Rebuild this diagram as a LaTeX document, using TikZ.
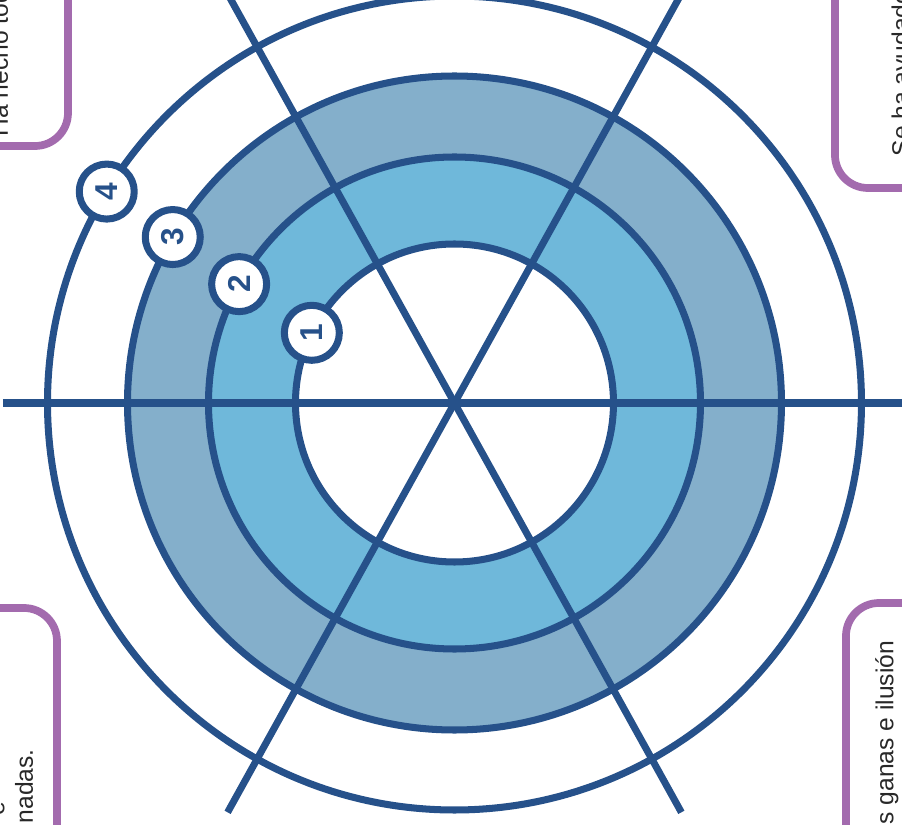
\documentclass[tikz,border=0pt]{standalone}
\usepackage{fontspec}
\setmainfont{Liberation Sans}
\usepackage{xcolor}
\usetikzlibrary{calc}

\definecolor{wheelblue}{RGB}{38,81,138}
\definecolor{ringlight}{RGB}{111,184,218}
\definecolor{ringmid}{RGB}{132,175,203}
\definecolor{boxpurple}{RGB}{163,107,174}
\definecolor{boxtext}{RGB}{40,40,40}

\tikzset{
  wheel/.style={draw=wheelblue, line width=2pt},
  spoke/.style={draw=wheelblue, line width=2pt, line cap=butt},
  badge/.style={circle, draw=wheelblue, line width=2pt, fill=white,
    minimum size=0.55cm, inner sep=0pt, text=wheelblue, rotate=90,
    font=\bfseries\fontsize{9}{9}\selectfont},
  notebox/.style={draw=boxpurple, line width=2.2pt, rounded corners=3.3mm},
  notetext/.style={rotate=90, anchor=base west, inner sep=0pt, text=boxtext,
    font=\fontsize{7}{8}\selectfont},
}

\begin{document}
\begin{tikzpicture}[line join=round]

  %====================
  % 1) marco y recorte
  %====================
  \useasboundingbox (-4.545,-4.22) rectangle (4.475,4.03);
  \clip (-4.545,-4.22) rectangle (4.475,4.03);

  \coordinate (O) at (0,0);
  \def\rA{1.59} % radio interior
  \def\rB{2.46}
  \def\rC{3.27}
  \def\rD{4.07} % radio exterior

  %====================
  % 2) anillos coloreados
  %====================
  \fill[ringmid, even odd rule] (O) circle (\rC) (O) circle (\rB);
  \fill[ringlight, even odd rule] (O) circle (\rB) (O) circle (\rA);

  %====================
  % 3) circunferencias
  %====================
  \foreach \r in {\rA,\rB,\rC,\rD}
    \draw[wheel] (O) circle (\r);

  %====================
  % 4) radios
  %====================
  \coordinate (Hl) at (-4.515,0);
  \coordinate (Hr) at (4.6,0);
  \coordinate (Sul) at (119:5);
  \coordinate (Sur) at (61:5);
  \coordinate (Sdl) at (241:4.68);
  \coordinate (Sdr) at (299:4.68);

  \draw[spoke] (Hl) -- (Hr);
  \draw[spoke] (Sul) -- (Sdr);
  \draw[spoke] (Sur) -- (Sdl);

  %====================
  % 5) numeros de nivel
  %====================
  \node[badge] (lvl1) at (153.8:\rA) {1};
  \node[badge] (lvl2) at (151.1:\rB) {2};
  \node[badge] (lvl3) at (149.5:\rC) {3};
  \node[badge] (lvl4) at (148.7:\rD) {4};

  %====================
  % 6) recuadros de las esquinas
  %====================
  \draw[notebox] (-5.5,2.57) rectangle (-3.865,5.5);
  \draw[notebox] (3.805,2.15) rectangle (5.5,5.5);
  \draw[notebox] (-5.5,-5.5) rectangle (-3.975,-2.05);
  \draw[notebox] (3.915,-5.5) rectangle (5.5,-2.0);

  \node[notetext] (tl) at (-4.465,2.66) {Ha hecho todo};
  \node[notetext] (tr) at (4.55,2.46) {Se ha ayudado};
  \node[notetext] (bla) at (-4.50,-4.13) {e};
  \node[notetext] (blb) at (-4.215,-4.21) {nadas.};
  \node[notetext] (br) at (4.39,-4.22) {s ganas e ilusión};

\end{tikzpicture}
\end{document}
